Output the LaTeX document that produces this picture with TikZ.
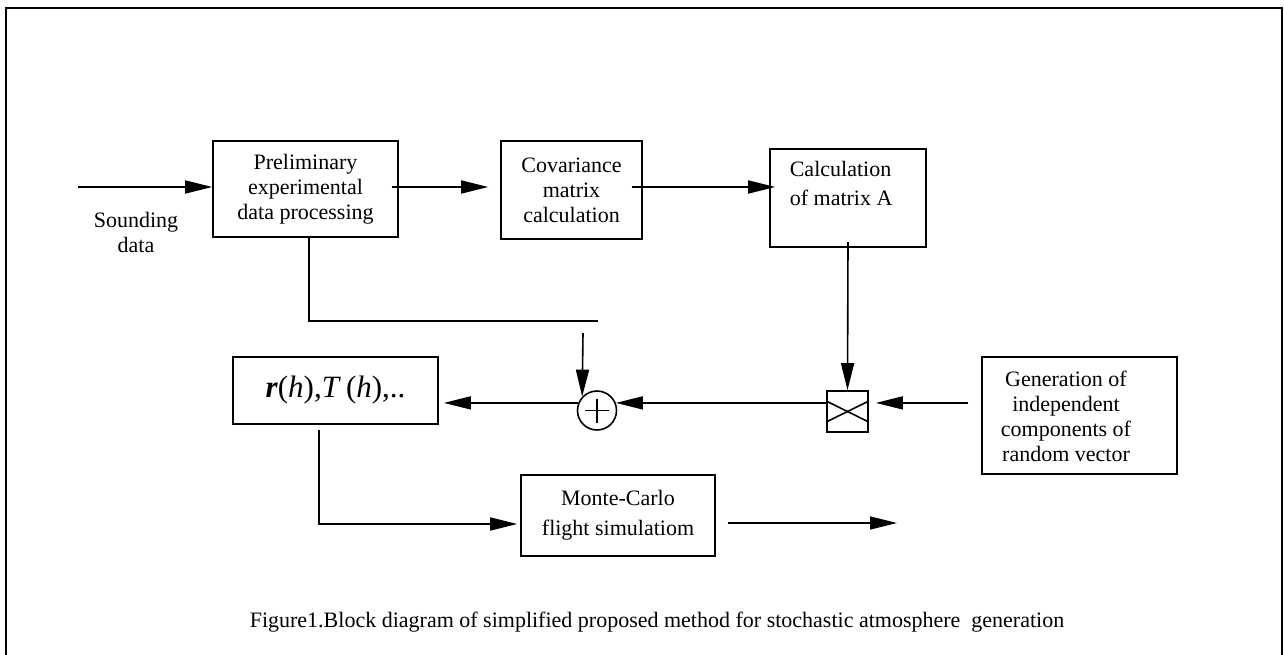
\documentclass[tikz,border=0pt]{standalone}
\usepackage{amsmath,amssymb}
\usepackage{fontspec}
\setmainfont{Liberation Serif}
\usetikzlibrary{arrows.meta}

\begin{document}
\begin{tikzpicture}[x=0.5pt,y=-0.5pt,line width=0.8pt,font=\fontsize{11}{12.5}\selectfont]
  \tikzstyle{blk}=[draw,rectangle,inner sep=0pt,align=center]
  \tikzstyle{txt}=[inner sep=0pt,align=center]
  \tikzstyle{arr}=[-{Triangle[length=13.5pt,width=6.5pt]}]

  \useasboundingbox (0,0) rectangle (1284,654);
  \draw[line width=1.2pt] (6,8) rectangle (1282,670);

  % Top row
  \node[blk,minimum width=92.5pt,minimum height=48pt] (pre) at (305.5,189) {Preliminary\\experimental\\data processing};
  \node[blk,minimum width=70.5pt,minimum height=49pt] (cov) at (571.5,190) {Covariance\\matrix\\calculation};
  \node[blk,minimum width=78pt,minimum height=49pt] (calc) at (848,198) {};
  \node[txt,align=left,anchor=north west] (calct) at (789,160) {Calculation\\[2pt]of matrix A};
  \node[txt] (snd) at (136,232) {Sounding\\data};
  \coordinate (in) at (78,187);

  \draw[arr] (in) -- (in -| pre.west);
  \draw[arr,shorten <=-3.5pt,shorten >=6pt] (pre.east |- in) -- (cov.west |- in);
  \draw[arr,shorten <=-5.5pt,shorten >=-3pt] (cov.east |- in) -- (calc.west |- in);

  % Middle row
  \node[blk,minimum width=102.5pt,minimum height=33.5pt,font=\fontsize{15.5}{18}\selectfont] (rh) at (335.5,390.5) {\textbf{\textit{r}}(\textit{h}),\textit{T}\,(\textit{h}),..};
  \node[draw,circle,minimum size=19.5pt,inner sep=0pt] (sum) at (597,410.5) {};
  \draw (sum.center) ++(-6pt,0) -- ++(12pt,0);
  \draw (sum.center) ++(0,-6pt) -- ++(0,12pt);
  \node[blk,minimum width=20.5pt,minimum height=20.5pt] (mult) at (847.5,411.5) {};
  \draw ([yshift=5.25pt]mult.west) -- ([yshift=-5.25pt]mult.east);
  \draw ([yshift=-5.25pt]mult.west) -- ([yshift=5.25pt]mult.east);
  \node[blk,minimum width=97.5pt,minimum height=58.5pt] (gen) at (1079.5,415.5) {};
  \node[txt] (gent) at (1066,416) {Generation of\\independent\\components of\\random vector};

  \draw[arr] ([yshift=3pt]calc.south) -- (mult.north);
  \draw[arr,shorten <=6.5pt,shorten >=3.5pt] (gen.west |- sum.22) -- (mult.east |- sum.22);
  \draw[arr] (mult.west |- sum.22) -- (sum.22);
  \draw[arr,shorten >=2.5pt] (sum.158) -- (rh.east |- sum.158);

  % feedback from preliminary processing
  \coordinate (fb) at (598,321);
  \coordinate (fbin) at (583,333);
  \draw ([xshift=1.75pt]pre.south) |- (fb);
  \draw[arr] (fbin) -- (sum.137);

  % Bottom row
  \node[blk,minimum width=97pt,minimum height=40.5pt] (mc) at (618,515.5) {Monte-Carlo\\[2.5pt]flight simulatiom};
  \coordinate (out) at (897,523);
  \draw[arr,shorten >=1.5pt] ([xshift=-8.25pt,yshift=-2.5pt]rh.south) |- ([yshift=-4.25pt]mc.west);
  \draw[arr,shorten <=6pt] (out -| mc.east) -- (out);

  \node[txt] (cap) at (657,622) {Figure1.Block diagram of simplified proposed method for stochastic atmosphere~ generation};
\end{tikzpicture}
\end{document}
